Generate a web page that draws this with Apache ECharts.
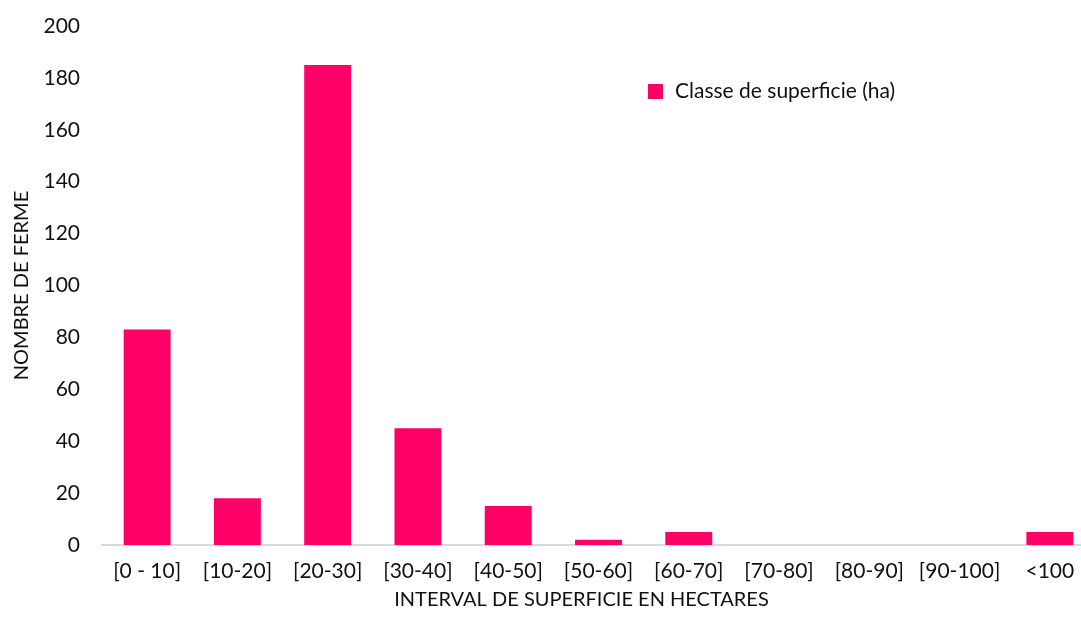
<!DOCTYPE html>
<html>
<head>
<meta charset="utf-8">
<script src="https://cdn.jsdelivr.net/npm/echarts@6/dist/echarts.min.js"></script>
<style>
  html, body { margin: 0; padding: 0; background: #fff; }
  #chart { width: 1081px; height: 632px; }
</style>
</head>
<body>
<div id="chart"></div>
<script>
// classes de superficie (ha)
const categories = ['[0 - 10]', '[10-20]', '[20-30]', '[30-40]', '[40-50]', '[50-60]', '[60-70]', '[70-80]', '[80-90]', '[90-100]', '<100']
const fermes = [83, 18, 185, 45, 15, 2, 5, 0, 0, 0, 5]
const yTicks = {min: 0, max: 200, interval: 20}

const font = 'Lato, "Open Sans", sans-serif'
const textColor = '#111'

const chart = echarts.init(document.getElementById('chart'))

const option = {
  animation: false,
  grid: {
    left: 102,
    right: -14,
    top: 26,
    bottom: 87,
    containLabel: false,
    outerBoundsMode: 'none'
  },
  legend: {
    show: true,
    left: 643,
    top: 76,
    itemWidth: 15,
    itemHeight: 15,
    icon: 'rect',
    data: ['Classe de superficie (ha)'],
    textStyle: {
      fontFamily: font,
      fontSize: 21,
      color: textColor,
      padding: [0, 0, 0, 7]
    }
  },
  xAxis: {
    type: 'category',
    data: categories,
    name: 'INTERVAL DE SUPERFICIE EN HECTARES',
    nameLocation: 'middle',
    nameGap: 45,
    nameTextStyle: {
      fontFamily: font,
      fontSize: 20,
      color: textColor,
      padding: [0, 34, 0, 0]
    },
    axisTick: {show: false},
    axisLine: {lineStyle: {color: '#d9d9d9', width: 2}},
    axisLabel: {
      interval: 0,
      margin: 16,
      fontFamily: font,
      fontSize: 21,
      color: textColor
    }
  },
  yAxis: {
    type: 'value',
    min: yTicks.min,
    max: yTicks.max,
    interval: yTicks.interval,
    name: 'NOMBRE DE FERME',
    nameLocation: 'middle',
    nameGap: 70,
    nameRotate: 90,
    nameTextStyle: {
      fontFamily: font,
      fontSize: 20,
      color: textColor
    },
    axisLine: {show: false},
    axisTick: {show: false},
    splitLine: {show: false},
    axisLabel: {
      margin: 22,
      fontFamily: font,
      fontSize: 21,
      color: textColor
    }
  },
  series: [{
    name: 'Classe de superficie (ha)',
    type: 'bar',
    data: fermes,
    barWidth: '52%',
    itemStyle: {color: '#ff0066'}
  }]
}

chart.setOption(option)
</script>
</body>
</html>
